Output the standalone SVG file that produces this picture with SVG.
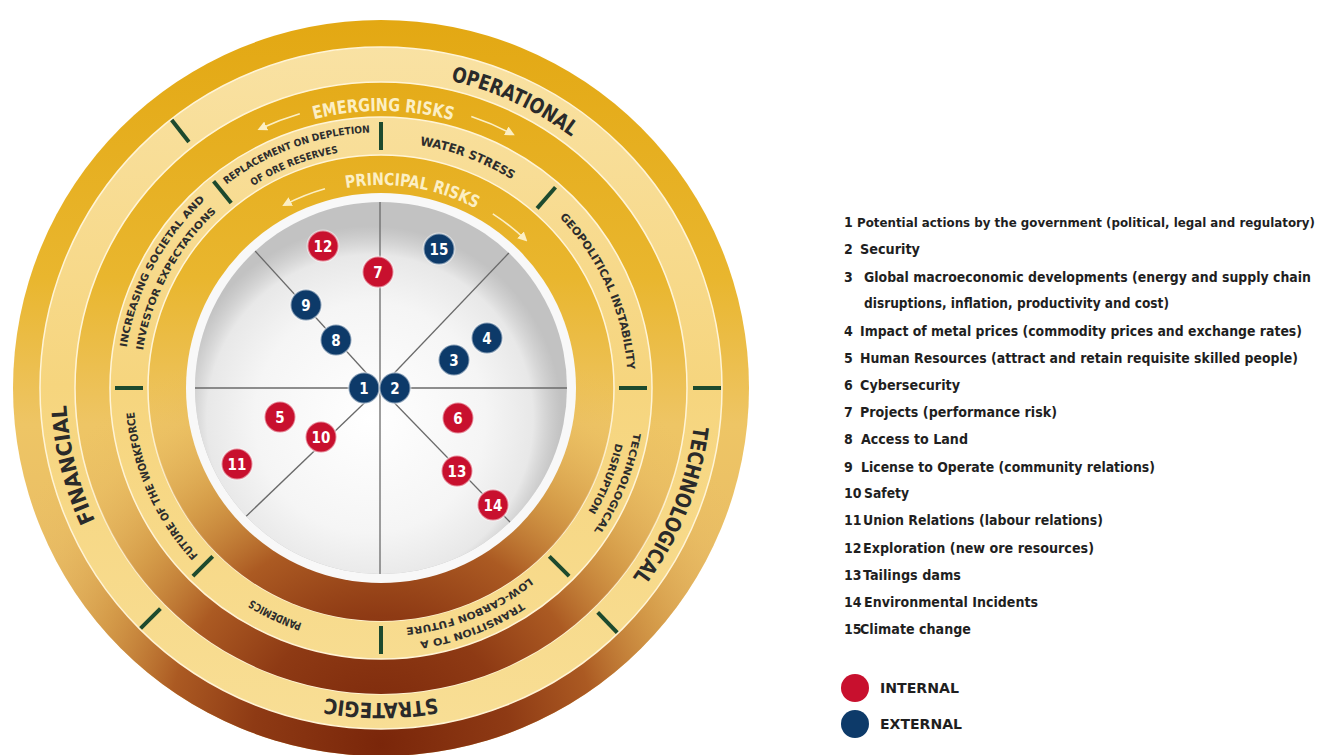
<svg xmlns="http://www.w3.org/2000/svg" width="1329" height="755" viewBox="0 0 1329 755">
<style>
.t{font-family:'Liberation Sans Narrow','DejaVu Sans Condensed','DejaVu Sans',Roboto,'Liberation Sans',sans-serif;font-weight:bold;font-stretch:condensed}
.outer{font-size:21px;fill:#2a2a2a}
.band{font-size:18px;fill:#FCEFC4}
.seg{font-size:11px;fill:#2d2d2d}
.seg2{font-size:10px;fill:#2d2d2d}
.num{font-size:15px;fill:#fff;text-anchor:middle}
.leg{font-size:14px;fill:#1f1f1f}
.int{fill:#C8102E;stroke:#fff;stroke-opacity:.5;stroke-width:2}
.ext{fill:#0D3A69;stroke:#fff;stroke-opacity:.5;stroke-width:2}
.tick{stroke:#1D4A2E;stroke-width:4}
.arrow{fill:none;stroke:#FCEFC4;stroke-width:1.6;marker-end:url(#ah)}
.spoke{stroke:#6a6a6a;stroke-width:1.3}
.cream{fill:url(#cream);stroke:#FFF4D6;stroke-width:1.5}
</style>
<defs>
<linearGradient id="gold" gradientUnits="userSpaceOnUse" x1="0" y1="20" x2="0" y2="756">
<stop offset="0" stop-color="#E3A813"/>
<stop offset="0.35" stop-color="#E9B62E"/>
<stop offset="0.55" stop-color="#EEC565"/>
<stop offset="1" stop-color="#E2B265"/>
</linearGradient>
<radialGradient id="brown" gradientUnits="userSpaceOnUse" cx="381" cy="745" r="430">
<stop offset="0" stop-color="#7A260A"/>
<stop offset="0.3" stop-color="#8E3A14"/>
<stop offset="0.5" stop-color="#A8551F" stop-opacity="0.95"/>
<stop offset="0.7" stop-color="#C98838" stop-opacity="0.6"/>
<stop offset="0.88" stop-color="#DDA855" stop-opacity="0.15"/>
<stop offset="1" stop-color="#E6B85C" stop-opacity="0"/>
</radialGradient>
<linearGradient id="cream" gradientUnits="userSpaceOnUse" x1="0" y1="40" x2="0" y2="730">
<stop offset="0" stop-color="#F9E2A4"/>
<stop offset="0.5" stop-color="#F6D57E"/>
<stop offset="1" stop-color="#F8DE95"/>
</linearGradient>
<radialGradient id="discLight" gradientUnits="userSpaceOnUse" cx="370" cy="418" r="192">
<stop offset="0" stop-color="#FFFFFF"/>
<stop offset="0.6" stop-color="#F5F5F5"/>
<stop offset="0.85" stop-color="#E8E8E8"/>
<stop offset="1" stop-color="#DCDCDC" stop-opacity="0"/>
</radialGradient>
<clipPath id="discClip"><circle cx="381" cy="388" r="186"/></clipPath>
<marker id="ah" viewBox="0 0 10 10" refX="7" refY="5" markerWidth="6" markerHeight="6" orient="auto" markerUnits="strokeWidth">
<path d="M0,0 L10,5 L0,10 z" fill="#FCEFC4"/>
</marker>
<path id="p-oper" d="M200.3,130 A315,315 0 0 1 694.8,360.5"/>
<path id="p-tech" d="M629.2,194.1 A315,315 0 0 1 424.8,699.9"/>
<path id="p-strat" d="M653.8,545.5 A315,315 0 0 1 108.2,545.5"/>
<path id="p-fin" d="M294.2,690.8 A315,315 0 0 1 162.2,161.4"/>
<path id="p-emer" d="M141.1,249.5 A277,277 0 0 1 620.9,249.5"/>
<path id="p-prin" d="M223.2,260.3 A203,203 0 0 1 570.5,315.2"/>
<path id="p-rep1" d="M129.4,344.2 A255.5,255.5 0 0 1 546.7,193.2"/>
<path id="p-rep2" d="M144.7,351.7 A239,239 0 0 1 530.2,201.2"/>
<path id="p-water" d="M224.9,197.9 A246,246 0 0 1 623.7,347.8"/>
<path id="p-geo" d="M406.8,142.4 A247,247 0 0 1 580.8,533.2"/>
<path id="p-tech1" d="M583.1,230.0 A256.5,256.5 0 0 1 416.7,642.0"/>
<path id="p-tech2" d="M570.9,239.6 A241,241 0 0 1 414.5,626.7"/>
<path id="p-trans1" d="M634.4,428.1 A256.5,256.5 0 0 1 219.6,587.3"/>
<path id="p-trans2" d="M619.7,421.5 A241,241 0 0 1 232.6,577.9"/>
<path id="p-pand" d="M523.3,591.2 A248,248 0 0 1 133.9,409.6"/>
<path id="p-fut" d="M355.1,634.6 A248,248 0 0 1 180.4,242.2"/>
<path id="p-inc1" d="M162.6,524.5 A257.5,257.5 0 0 1 372.0,130.7"/>
<path id="p-inc2" d="M176.6,515.7 A241,241 0 0 1 372.6,147.1"/>
</defs>

<g id="rings">
<circle cx="381" cy="388" r="368" fill="url(#gold)"/>
<circle cx="381" cy="388" r="368" fill="url(#brown)"/>
<circle class="cream" cx="381" cy="388" r="341"/>
<circle cx="381" cy="388" r="306" fill="url(#gold)" stroke="#FFF4D6" stroke-width="1.5"/>
<circle cx="381" cy="388" r="306" fill="url(#brown)"/>
<circle class="cream" cx="381" cy="388" r="271"/>
<circle cx="381" cy="388" r="233" fill="url(#gold)" stroke="#FFF4D6" stroke-width="1.5"/>
<circle cx="381" cy="388" r="233" fill="url(#brown)"/>
<circle cx="381" cy="388" r="195" fill="#F8F8F8"/>
<circle cx="381" cy="388" r="186" fill="#C2C2C2"/>
<circle cx="370" cy="418" r="192" fill="url(#discLight)" clip-path="url(#discClip)"/>
</g>

<g id="ticks">
<line class="tick" x1="381" y1="150" x2="381" y2="122"/>
<line class="tick" x1="537.1" y1="208.4" x2="555.5" y2="187.3"/>
<line class="tick" x1="619" y1="388" x2="647" y2="388"/>
<line class="tick" x1="549.3" y1="556.3" x2="569.1" y2="576.1"/>
<line class="tick" x1="381" y1="626" x2="381" y2="654"/>
<line class="tick" x1="212.7" y1="556.3" x2="192.9" y2="576.1"/>
<line class="tick" x1="143" y1="388" x2="115" y2="388"/>
<line class="tick" x1="231.2" y1="203" x2="213.6" y2="181.3"/>
<line class="tick" x1="693" y1="388" x2="721" y2="388"/>
<line class="tick" x1="597.7" y1="612.4" x2="617.2" y2="632.6"/>
<line class="tick" x1="160.4" y1="608.6" x2="140.6" y2="628.4"/>
<line class="tick" x1="188.9" y1="142.1" x2="171.7" y2="120.1"/>
</g>

<g id="category-labels">
<text class="t outer"><textPath href="#p-oper" startOffset="50%" text-anchor="middle" textLength="134" lengthAdjust="spacingAndGlyphs">OPERATIONAL</textPath></text>
<text class="t outer"><textPath href="#p-tech" startOffset="50%" text-anchor="middle" textLength="165" lengthAdjust="spacingAndGlyphs">TECHNOLOGICAL</textPath></text>
<text class="t outer"><textPath href="#p-strat" startOffset="50%" text-anchor="middle" textLength="112" lengthAdjust="spacingAndGlyphs">STRATEGIC</textPath></text>
<text class="t outer"><textPath href="#p-fin" startOffset="50%" text-anchor="middle" textLength="120" lengthAdjust="spacingAndGlyphs">FINANCIAL</textPath></text>
</g>

<g id="band-titles">
<text class="t band"><textPath href="#p-emer" startOffset="50.4%" text-anchor="middle" textLength="140" lengthAdjust="spacingAndGlyphs">EMERGING RISKS</textPath></text>
<text class="t band" style="font-size:17px"><textPath href="#p-prin" startOffset="50%" text-anchor="middle" textLength="134" lengthAdjust="spacingAndGlyphs">PRINCIPAL RISKS</textPath></text>
<path class="arrow" d="M299.8,113.8 A286,286 0 0 0 260.1,128.8"/>
<path class="arrow" d="M471.3,116.6 A286,286 0 0 1 512.2,133.9"/>
<path class="arrow" d="M325,188.7 A207,207 0 0 0 284.8,204.7"/>
<path class="arrow" d="M492.8,213.8 A207,207 0 0 1 525.3,239.6"/>
</g>

<g id="emerging-risks">
<text class="t seg2"><textPath href="#p-rep1" startOffset="50%" text-anchor="middle" textLength="155" lengthAdjust="spacingAndGlyphs">REPLACEMENT ON DEPLETION</textPath><textPath href="#p-rep2" startOffset="50%" text-anchor="middle" textLength="92" lengthAdjust="spacingAndGlyphs">OF ORE RESERVES</textPath></text>
<text class="t seg" style="font-size:12px"><textPath href="#p-water" startOffset="50%" text-anchor="middle" textLength="99" lengthAdjust="spacingAndGlyphs">WATER STRESS</textPath></text>
<text class="t seg"><textPath href="#p-geo" startOffset="50%" text-anchor="middle" textLength="170" lengthAdjust="spacingAndGlyphs">GEOPOLITICAL INSTABILITY</textPath></text>
<text class="t seg2"><textPath href="#p-tech1" startOffset="50%" text-anchor="middle" textLength="107" lengthAdjust="spacingAndGlyphs">TECHNOLOGICAL</textPath><textPath href="#p-tech2" startOffset="50%" text-anchor="middle" textLength="74" lengthAdjust="spacingAndGlyphs">DISRUPTION</textPath></text>
<text class="t seg2"><textPath href="#p-trans1" startOffset="50%" text-anchor="middle" textLength="110" lengthAdjust="spacingAndGlyphs">TRANSITION TO A</textPath><textPath href="#p-trans2" startOffset="50%" text-anchor="middle" textLength="135" lengthAdjust="spacingAndGlyphs">LOW-CARBON FUTURE</textPath></text>
<text class="t seg"><textPath href="#p-pand" startOffset="50%" text-anchor="middle" textLength="56" lengthAdjust="spacingAndGlyphs">PANDEMICS</textPath></text>
<text class="t seg"><textPath href="#p-fut" startOffset="50%" text-anchor="middle" textLength="160" lengthAdjust="spacingAndGlyphs">FUTURE OF THE WORKFORCE</textPath></text>
<text class="t seg2"><textPath href="#p-inc1" startOffset="50%" text-anchor="middle" textLength="170" lengthAdjust="spacingAndGlyphs">INCREASING SOCIETAL AND</textPath><textPath href="#p-inc2" startOffset="50%" text-anchor="middle" textLength="160" lengthAdjust="spacingAndGlyphs">INVESTOR EXPECTATIONS</textPath></text>
</g>

<g id="connectors" clip-path="url(#discClip)">
<line class="spoke" x1="190" y1="388" x2="575" y2="388"/>
<line class="spoke" x1="380" y1="195" x2="380" y2="585"/>
<line class="spoke" x1="380" y1="388" x2="245.6" y2="240.6"/>
<line class="spoke" x1="380" y1="388" x2="518" y2="243.4"/>
<line class="spoke" x1="380" y1="388" x2="235.6" y2="526.4"/>
<line class="spoke" x1="380" y1="388" x2="519.2" y2="531.6"/>
</g>

<g id="risk-12"><circle class="int" cx="323" cy="246" r="15.5"/><text class="t num" x="323" y="251.5">12</text></g>
<g id="risk-7"><circle class="int" cx="378" cy="272" r="15.5"/><text class="t num" x="378" y="277.5">7</text></g>
<g id="risk-15"><circle class="ext" cx="439" cy="249" r="15.5"/><text class="t num" x="439" y="254.5">15</text></g>
<g id="risk-9"><circle class="ext" cx="306" cy="305" r="15.5"/><text class="t num" x="306" y="310.5">9</text></g>
<g id="risk-8"><circle class="ext" cx="336" cy="340" r="15.5"/><text class="t num" x="336" y="345.5">8</text></g>
<g id="risk-4"><circle class="ext" cx="487" cy="338" r="15.5"/><text class="t num" x="487" y="343.5">4</text></g>
<g id="risk-3"><circle class="ext" cx="454" cy="360" r="15.5"/><text class="t num" x="454" y="365.5">3</text></g>
<g id="risk-1"><circle class="ext" cx="364" cy="388" r="15.5"/><text class="t num" x="364" y="393.5">1</text></g>
<g id="risk-2"><circle class="ext" cx="395" cy="388" r="15.5"/><text class="t num" x="395" y="393.5">2</text></g>
<g id="risk-5"><circle class="int" cx="280" cy="417" r="15.5"/><text class="t num" x="280" y="422.5">5</text></g>
<g id="risk-10"><circle class="int" cx="321" cy="437" r="15.5"/><text class="t num" x="321" y="442.5">10</text></g>
<g id="risk-6"><circle class="int" cx="458" cy="418" r="15.5"/><text class="t num" x="458" y="423.5">6</text></g>
<g id="risk-11"><circle class="int" cx="237" cy="464" r="15.5"/><text class="t num" x="237" y="469.5">11</text></g>
<g id="risk-13"><circle class="int" cx="457" cy="471" r="15.5"/><text class="t num" x="457" y="476.5">13</text></g>
<g id="risk-14"><circle class="int" cx="493" cy="505" r="15.5"/><text class="t num" x="493" y="510.5">14</text></g>

<g id="legend">
<text class="t leg" x="844" y="227">1</text><text class="t leg" style="font-size:12.5px" x="857" y="227" textLength="458" lengthAdjust="spacingAndGlyphs">Potential actions by the government (political, legal and regulatory)</text>
<text class="t leg" x="844" y="254">2</text><text class="t leg" x="860" y="254" textLength="60" lengthAdjust="spacingAndGlyphs">Security</text>
<text class="t leg" x="844" y="282">3</text><text class="t leg" x="864" y="282" textLength="447" lengthAdjust="spacingAndGlyphs">Global macroeconomic developments (energy and supply chain</text>
<text class="t leg" x="864" y="308" textLength="305" lengthAdjust="spacingAndGlyphs">disruptions, inflation, productivity and cost)</text>
<text class="t leg" x="844" y="336">4</text><text class="t leg" x="860" y="336" textLength="442" lengthAdjust="spacingAndGlyphs">Impact of metal prices (commodity prices and exchange rates)</text>
<text class="t leg" x="844" y="363">5</text><text class="t leg" x="860" y="363" textLength="438" lengthAdjust="spacingAndGlyphs">Human Resources (attract and retain requisite skilled people)</text>
<text class="t leg" x="844" y="390">6</text><text class="t leg" x="860" y="390" textLength="100" lengthAdjust="spacingAndGlyphs">Cybersecurity</text>
<text class="t leg" x="844" y="417">7</text><text class="t leg" x="860" y="417" textLength="197" lengthAdjust="spacingAndGlyphs">Projects (performance risk)</text>
<text class="t leg" x="844" y="444">8</text><text class="t leg" x="861" y="444" textLength="107" lengthAdjust="spacingAndGlyphs">Access to Land</text>
<text class="t leg" x="844" y="472">9</text><text class="t leg" x="861" y="472" textLength="294" lengthAdjust="spacingAndGlyphs">License to Operate (community relations)</text>
<text class="t leg" x="844" y="498">10</text><text class="t leg" x="864" y="498" textLength="45" lengthAdjust="spacingAndGlyphs">Safety</text>
<text class="t leg" x="844" y="525">11</text><text class="t leg" x="863" y="525" textLength="240" lengthAdjust="spacingAndGlyphs">Union Relations (labour relations)</text>
<text class="t leg" x="844" y="553">12</text><text class="t leg" x="863" y="553" textLength="231" lengthAdjust="spacingAndGlyphs">Exploration (new ore resources)</text>
<text class="t leg" x="844" y="580">13</text><text class="t leg" x="863" y="580" textLength="98" lengthAdjust="spacingAndGlyphs">Tailings dams</text>
<text class="t leg" x="844" y="607">14</text><text class="t leg" x="864" y="607" textLength="174" lengthAdjust="spacingAndGlyphs">Environmental Incidents</text>
<text class="t leg" x="844" y="634">15</text><text class="t leg" x="860" y="634" textLength="111" lengthAdjust="spacingAndGlyphs">Climate change</text>
</g>

<g id="legend-internal"><circle cx="855" cy="688" r="14" fill="#C8102E"/><text class="t leg" x="880" y="693" textLength="79" lengthAdjust="spacingAndGlyphs">INTERNAL</text></g>
<g id="legend-external"><circle cx="855" cy="724" r="14" fill="#0D3A69"/><text class="t leg" x="880" y="729" textLength="82" lengthAdjust="spacingAndGlyphs">EXTERNAL</text></g>
</svg>
